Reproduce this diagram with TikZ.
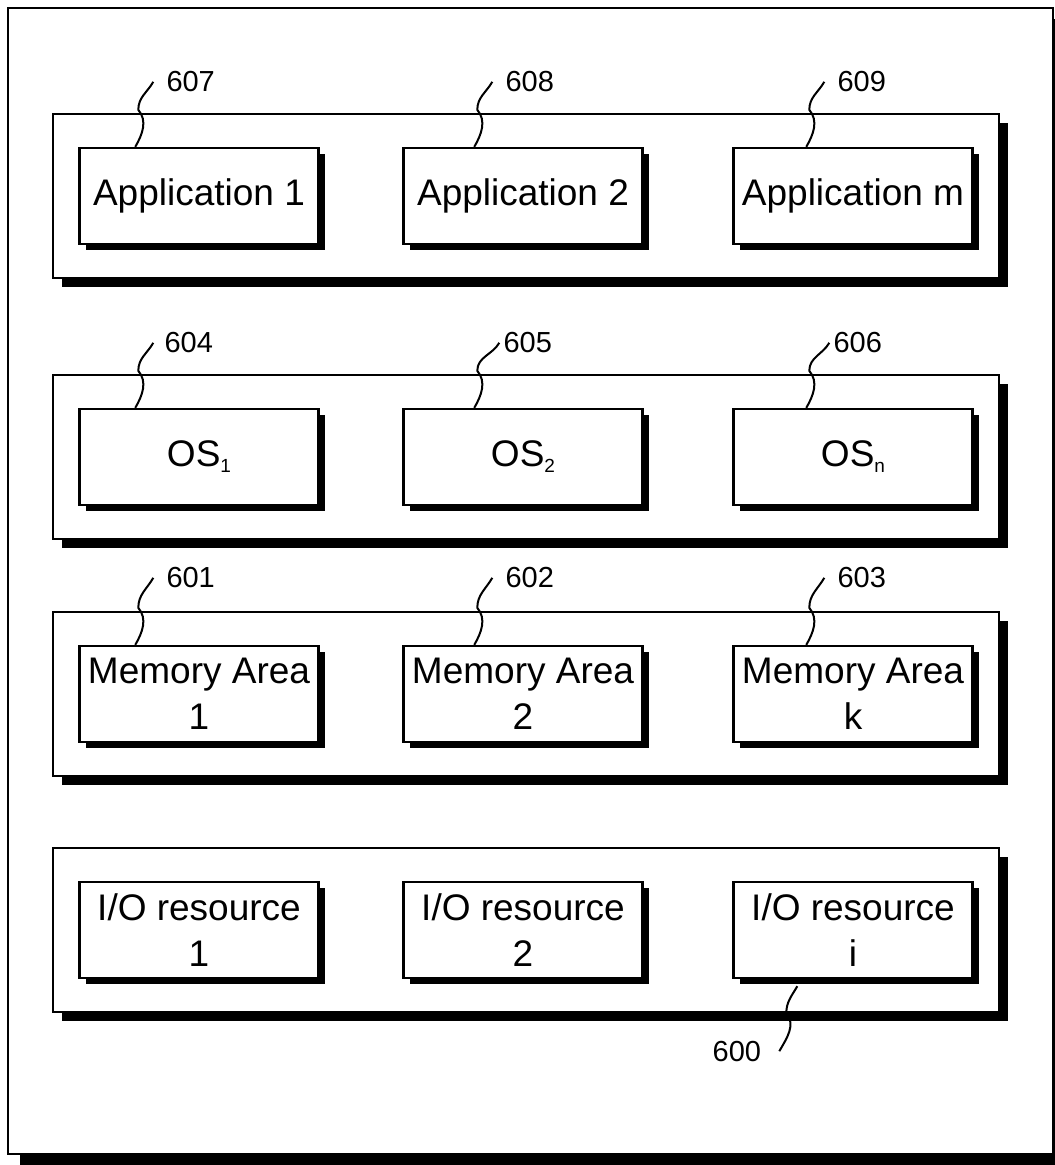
\documentclass[tikz,border=0pt]{standalone}
\usepackage{fontspec}
\setmainfont{Liberation Sans}
\usetikzlibrary{calc, fit, shadows, backgrounds}
\newcommand{\osidx}[1]{\raisebox{-6pt}{\fontsize{19}{19}\selectfont #1}}

\begin{document}
\begin{tikzpicture}[x=1pt, y=-1pt,
    resbox/.style={draw, line width=2.4pt, fill=white, minimum width=239pt, minimum height=96pt, inner sep=3pt, align=center, font=\fontsize{37}{46}\selectfont, drop shadow={opacity=1, fill=black, shadow xshift=6pt, shadow yshift=-6pt}},
    layer/.style={draw, line width=2.2pt, fill=white, inner xsep=25pt, inner ysep=33pt, drop shadow={opacity=1, fill=black, shadow xshift=9pt, shadow yshift=-9pt}},
    refnum/.style={inner sep=0pt, font=\fontsize{29}{29}\selectfont},
    leader/.style={line width=2pt}]
    \useasboundingbox (0,0) rectangle (1055,1165);

    % applications
    \node[resbox] (app1) at (199,196) {Application 1};
    \node[resbox] (app2) at (523,196) {Application 2};
    \node[resbox] (appm) at (853,196) {Application m};
    % operating systems
    \node[resbox] (os1) at (199,457) {OS\osidx{1}};
    \node[resbox] (os2) at (523,457) {OS\osidx{2}};
    \node[resbox] (osn) at (853,457) {OS\osidx{n}};
    % memory areas
    \node[resbox] (mem1) at (199,694) {Memory Area\\1};
    \node[resbox] (mem2) at (523,694) {Memory Area\\2};
    \node[resbox] (memk) at (853,694) {Memory Area\\k};
    % I/O resources
    \node[resbox] (io1) at (199,930) {I/O resource\\1};
    \node[resbox] (io2) at (523,930) {I/O resource\\2};
    \node[resbox] (ioi) at (853,930) {I/O resource\\i};

    \begin{scope}[on background layer]
        \draw[line width=2.5pt, fill=white, drop shadow={opacity=1, fill=black, shadow xshift=12pt, shadow yshift=-11pt}] (8,8) rectangle (1053,1154);
        \node[layer, fit=(app1)(appm)] (apps) {};
        \node[layer, fit=(os1)(osn)] (oses) {};
        \node[layer, fit=(mem1)(memk)] (mems) {};
        \node[layer, fit=(io1)(ioi)] (ios) {};
    \end{scope}

    % reference numerals
    \node[refnum, anchor=west] (l607) at ($(app1.north west)+(88,-65)$) {607};
    \node[refnum, anchor=west] (l608) at ($(app2.north west)+(103,-65)$) {608};
    \node[refnum, anchor=west] (l609) at ($(appm.north west)+(105,-65)$) {609};
    \node[refnum, anchor=west] (l604) at ($(os1.north west)+(86,-65)$) {604};
    \node[refnum, anchor=west] (l605) at ($(os2.north west)+(101,-65)$) {605};
    \node[refnum, anchor=west] (l606) at ($(osn.north west)+(101,-65)$) {606};
    \node[refnum, anchor=west] (l601) at ($(mem1.north west)+(88,-67)$) {601};
    \node[refnum, anchor=west] (l602) at ($(mem2.north west)+(103,-67)$) {602};
    \node[refnum, anchor=west] (l603) at ($(memk.north west)+(105,-67)$) {603};
    \node[refnum, anchor=east] (l600) at ($(ioi.south west)+(29,72)$) {600};

    \draw[leader] ([xshift=-13pt]l607.west) to[out=240,in=90] ($(app1.north west)+(60,-37)$) to[out=-50,in=60] ($(app1.north west)+(57,0)$);
    \draw[leader] ([xshift=-13pt]l608.west) to[out=240,in=90] ($(app2.north west)+(75,-37)$) to[out=-50,in=60] ($(app2.north west)+(72,0)$);
    \draw[leader] ([xshift=-13pt]l609.west) to[out=240,in=90] ($(appm.north west)+(77,-37)$) to[out=-50,in=60] ($(appm.north west)+(74,0)$);
    \draw[leader] ([xshift=-11pt]l604.west) to[out=240,in=90] ($(os1.north west)+(60,-37)$) to[out=-50,in=60] ($(os1.north west)+(57,0)$);
    \draw[leader] ([xshift=-4pt]l605.west) to[out=240,in=90] ($(os2.north west)+(75,-37)$) to[out=-50,in=60] ($(os2.north west)+(72,0)$);
    \draw[leader] ([xshift=-4pt]l606.west) to[out=240,in=90] ($(osn.north west)+(77,-37)$) to[out=-50,in=60] ($(osn.north west)+(74,0)$);
    \draw[leader] ([xshift=-13pt]l601.west) to[out=240,in=90] ($(mem1.north west)+(60,-37)$) to[out=-50,in=60] ($(mem1.north west)+(57,0)$);
    \draw[leader] ([xshift=-13pt]l602.west) to[out=240,in=90] ($(mem2.north west)+(75,-37)$) to[out=-50,in=60] ($(mem2.north west)+(72,0)$);
    \draw[leader] ([xshift=-13pt]l603.west) to[out=240,in=90] ($(memk.north west)+(77,-37)$) to[out=-50,in=60] ($(memk.north west)+(74,0)$);
    \draw[leader] ($(ioi.south west)+(65,7)$) to[out=240,in=90] ($(ioi.south west)+(54,34)$) to[out=-50,in=60] ([xshift=18pt]l600.east);
\end{tikzpicture}
\end{document}
